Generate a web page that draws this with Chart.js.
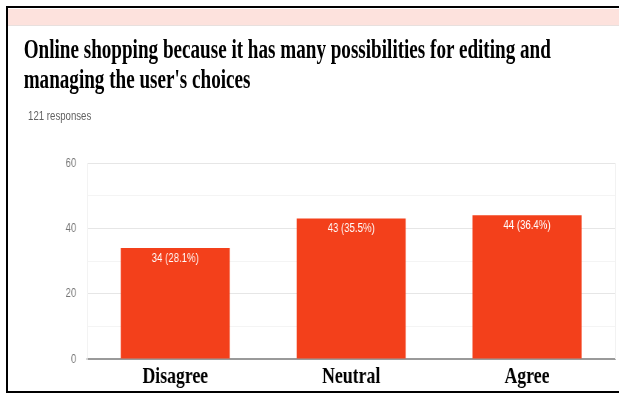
<!DOCTYPE html>
<html>
<head>
<meta charset="utf-8">
<script src="https://cdn.jsdelivr.net/npm/chart.js@4"></script>
<style>
  body { margin: 0; background: #fff; }
  #page { position: relative; width: 619px; height: 394px; overflow: hidden; background: #fff; }
  .band { position: absolute; left: 8px; top: 9px; right: 0; height: 16px; background: #fde2dd; border-bottom: 1px solid #e8e0de; }
  .edge { position: absolute; background: #000; }
  #sheet { position: absolute; left: 0; top: 0; width: 837px; height: 394px; transform: scaleX(0.74); transform-origin: 0 0; }
  #title { position: absolute; left: 32px; top: 34px; font: bold 26.5px/30px "Liberation Serif", serif; color: #000; white-space: nowrap; transform: scaleX(0.975); transform-origin: 0 0; }
  #count { position: absolute; left: 38px; top: 108px; font: 13px/15px "Liberation Sans", sans-serif; color: #616161; }
  #chartBox { position: absolute; left: 0; top: 130px; width: 837px; height: 264px; }
</style>
</head>
<body>
<div id="page">
  <div class="band"></div>
  <div class="edge" style="left:6px;top:6px;right:0;height:2px"></div>
  <div class="edge" style="left:6px;top:6px;width:2px;height:387px"></div>
  <div class="edge" style="left:6px;top:391px;right:0;height:2px"></div>
  <div id="sheet">
    <div id="title">Online shopping because it has many possibilities for editing and<br>managing the user's choices</div>
    <div id="count">121 responses</div>
    <div id="chartBox"><canvas id="chart" width="837" height="264"></canvas></div>
  </div>
</div>
<script>
const categories = ["Disagree", "Neutral", "Agree"];
const counts = [34, 43, 44];
const totalResponses = 121;
const yLabels = [0, 20, 40, 60];

// white "n (p%)" text just inside the top of each bar
const barLabels = {
  id: "barLabels",
  afterDatasetsDraw(chart) {
    const ctx = chart.ctx;
    const meta = chart.getDatasetMeta(0);
    ctx.save();
    ctx.fillStyle = "#ffffff";
    ctx.font = '13px "Liberation Sans", sans-serif';
    ctx.textAlign = "center";
    ctx.textBaseline = "middle";
    meta.data.forEach((bar, i) => {
      const v = counts[i];
      const pct = (v / totalResponses * 100).toFixed(1);
      ctx.fillText(`${v} (${pct}%)`, bar.x, bar.y + 10);
    });
    ctx.restore();
  }
};

// faint right edge of the plot frame
const plotFrame = {
  id: "plotFrame",
  beforeDatasetsDraw(chart) {
    const a = chart.chartArea;
    const ctx = chart.ctx;
    ctx.save();
    ctx.strokeStyle = "#eeeeee";
    ctx.lineWidth = 1;
    ctx.beginPath();
    ctx.moveTo(a.right + 0.5, a.top);
    ctx.lineTo(a.right + 0.5, a.bottom);
    ctx.stroke();
    ctx.restore();
  }
};

new Chart(document.getElementById("chart"), {
  type: "bar",
  data: {
    labels: categories,
    datasets: [{
      data: counts,
      backgroundColor: "#f3401b",
      barPercentage: 0.62,
      categoryPercentage: 1
    }]
  },
  options: {
    responsive: false,
    animation: false,
    layout: { padding: { top: 33, right: 6, bottom: 0, left: 0 } },
    plugins: {
      legend: { display: false },
      tooltip: { enabled: false }
    },
    scales: {
      x: {
        grid: { display: false, drawTicks: false },
        border: { display: true, color: "#9a9a9a", width: 2 },
        ticks: {
          color: "#000",
          padding: 3,
          maxRotation: 0,
          font: { family: "Liberation Serif", weight: "bold", size: 24 }
        },
        afterFit: (scale) => { scale.height = 35; }
      },
      y: {
        min: 0,
        max: 60,
        grid: {
          drawTicks: false,
          color: (c) => c.tick.value % 20 === 0 ? "#e6e6e6" : "#f4f4f4"
        },
        border: { display: true, color: "#eeeeee" },
        ticks: {
          stepSize: 10,
          padding: 15,
          color: "#757575",
          font: { family: "Liberation Sans", size: 13 },
          callback: (v) => yLabels.includes(v) ? v : ""
        },
        afterFit: (scale) => { scale.width = 118; }
      }
    }
  },
  plugins: [barLabels, plotFrame]
});
</script>
</body>
</html>
